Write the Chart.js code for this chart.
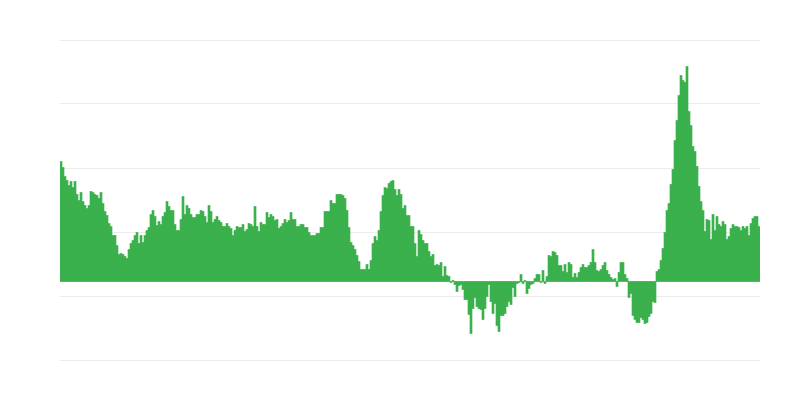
<!DOCTYPE html>
<html>
<head>
<meta charset="utf-8">
<title>Chart</title>
<script src="https://cdn.jsdelivr.net/npm/chart.js@4/dist/chart.umd.min.js"></script>
<style>
    html, body { margin: 0; padding: 0; background: #fff; }
    .chart-box { width: 800px; height: 400px; position: relative; }
</style>
</head>
<body>
<div class="chart-box"><canvas id="chartBars"></canvas></div>
<script>
// series values, split in chunks of 50 points
const seg1 = [12.0, 11.4, 10.5, 10.1, 9.6, 10.0, 9.4, 10.0, 8.7, 8.1,
    8.9, 8.0, 7.6, 7.3, 7.6, 9.0, 8.9, 8.7, 8.6, 8.3,
    8.9, 7.8, 7.0, 6.6, 5.8, 5.5, 4.6, 4.6, 3.6, 2.7,
    2.8, 2.7, 2.5, 2.3, 3.2, 3.8, 4.1, 4.6, 4.9, 3.8,
    4.6, 3.9, 4.6, 5.1, 5.4, 6.7, 7.1, 6.5, 5.6, 6.0];
const seg2 = [5.7, 6.5, 6.9, 8.0, 7.5, 7.1, 7.1, 5.7, 5.1, 5.1,
    6.2, 8.5, 6.7, 7.6, 7.3, 6.7, 6.4, 6.4, 6.7, 6.7,
    7.1, 7.0, 6.5, 5.9, 7.6, 7.0, 5.9, 6.2, 6.5, 6.1,
    5.9, 5.5, 5.5, 5.8, 5.5, 5.3, 4.6, 5.1, 5.5, 5.4,
    5.4, 5.7, 5.0, 5.2, 5.8, 5.7, 5.5, 7.5, 5.5, 5.0];
const seg3 = [5.9, 5.7, 5.7, 6.9, 6.4, 6.7, 6.5, 6.1, 6.2, 5.3,
    5.5, 5.8, 6.2, 5.9, 6.1, 6.9, 6.2, 6.2, 5.5, 5.5,
    5.7, 5.7, 5.4, 5.4, 4.9, 4.6, 4.6, 4.6, 4.8, 4.8,
    5.4, 5.4, 7.0, 7.0, 7.0, 8.1, 7.8, 7.8, 8.7, 8.7,
    8.7, 8.6, 8.3, 7.1, 5.4, 3.9, 3.6, 3.2, 2.6, 2.0];
const seg4 = [1.2, 1.2, 1.2, 1.7, 1.2, 2.1, 3.8, 4.5, 4.1, 5.1,
    7.0, 8.6, 9.4, 9.3, 9.8, 10.0, 10.1, 9.2, 8.6, 9.2,
    8.7, 7.3, 7.6, 6.6, 6.6, 5.5, 5.5, 3.8, 2.5, 5.1,
    4.7, 4.1, 3.8, 3.8, 3.0, 2.5, 2.7, 1.6, 1.7, 1.6,
    1.9, 0.5, 1.5, 0.6, 0.5, -0.1, 0.1, -0.3, -1.0, -0.4];
const seg5 = [-0.3, -0.8, -1.8, -1.8, -3.3, -5.2, -2.7, -1.6, -2.5, -2.7,
    -2.8, -3.8, -2.7, -1.5, -0.3, -2.0, -3.2, -2.2, -4.4, -5.0,
    -3.4, -3.4, -3.2, -2.5, -2.0, -2.3, -0.6, -1.5, -0.2, -0.1,
    0.7, -0.2, 0.1, -1.2, -0.7, -0.3, -0.2, 0.3, 0.7, 0.7,
    -0.1, 1.1, -0.2, 0.5, 2.6, 2.5, 3.0, 2.9, 2.6, 1.6];
const seg6 = [1.6, 1.0, 1.7, 0.9, 1.9, 1.7, 0.4, 0.8, 0.4, 0.9,
    1.4, 1.7, 1.4, 1.4, 1.6, 1.9, 3.2, 1.9, 1.1, 1.0,
    1.2, 1.6, 1.9, 1.1, 0.7, 0.4, 0.2, 0.3, -0.5, 0.9,
    1.9, 1.9, 0.7, 0.3, -1.6, -1.2, -3.4, -3.8, -4.1, -4.1,
    -3.6, -3.8, -4.2, -4.1, -3.5, -3.2, -2.0, -2.1, 1.0, 1.2];
const seg7 = [2.1, 3.3, 4.9, 7.1, 7.8, 9.7, 11.2, 14.1, 16.1, 18.6,
    20.6, 20.1, 19.9, 21.5, 17.0, 15.6, 13.5, 13.0, 11.5, 9.5,
    8.0, 7.1, 5.0, 6.2, 6.1, 4.2, 6.7, 5.1, 6.5, 5.7,
    5.5, 6.0, 5.7, 4.2, 4.5, 5.3, 5.7, 5.5, 5.5, 5.4,
    5.1, 5.5, 5.3, 5.5, 4.6, 5.8, 6.3, 6.5, 6.5, 5.5];

// value range of the bar axis and of the background grid
const barMin = -7.85;
const barMax = 24.15;
const gridTicks = [0, 1, 2, 3, 4, 5];

document.addEventListener("DOMContentLoaded", function() {
    initChart();
});

function initChart() {
    const values = [].concat(seg1, seg2, seg3, seg4, seg5, seg6, seg7);
    const labels = values.map((v, i) => String(i + 1));

    const ctx = document.getElementById("chartBars");
    new Chart(ctx, {
        type: "bar",
        data: {
            labels: labels,
            datasets: [{
                label: "Valor",
                data: values,
                backgroundColor: "#3ab14c",
                borderWidth: 0,
                barPercentage: 1,
                categoryPercentage: 1
            }]
        },
        options: {
            responsive: true,
            maintainAspectRatio: false,
            animation: false,
            layout: { padding: { left: 60, right: 40, top: 40, bottom: 40 } },
            plugins: { legend: { display: false }, tooltip: { enabled: false } },
            scales: {
                x: { display: false },
                y: { display: false, min: barMin, max: barMax },
                grid: {
                    type: "linear",
                    position: "left",
                    display: true,
                    min: gridTicks[0],
                    max: gridTicks[gridTicks.length - 1],
                    ticks: { display: false, stepSize: 1 },
                    border: { display: false },
                    grid: { color: "#ebebeb", lineWidth: 1, drawTicks: false }
                }
            }
        }
    });
}
</script>
</body>
</html>
